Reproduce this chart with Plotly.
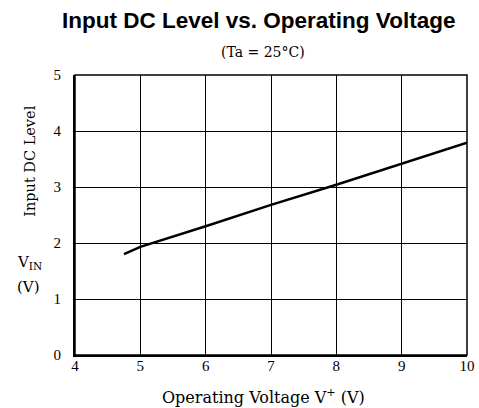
import plotly.graph_objects as go

# Data
v_plus = [4.75, 5, 6, 7, 8, 9, 10]
v_in = [1.80, 1.93, 2.30, 2.68, 3.04, 3.42, 3.79]
x_ticks = [4, 5, 6, 7, 8, 9, 10]
y_ticks = [0, 1, 2, 3, 4, 5]

serif = "Liberation Serif, Times New Roman, serif"
wserif = "DejaVu Serif, serif"
sans = "Liberation Sans, Arial, sans-serif"

fig = go.Figure()
fig.add_trace(go.Scatter(x=v_plus, y=v_in, mode="lines",
                         line=dict(color="black", width=2.5), showlegend=False))

axis_common = dict(showgrid=True, gridcolor="black", gridwidth=1, zeroline=False,
                   showline=True, linecolor="black", linewidth=2, ticks="", ticklen=0,
                   fixedrange=True, automargin=False,
                   tickfont=dict(family=serif, size=15, color="black"))

fig.update_layout(
    width=479, height=408,
    margin=dict(l=75, r=12, t=75, b=53, autoexpand=False),
    paper_bgcolor="white", plot_bgcolor="white",
    xaxis=dict(range=[4, 10], tickvals=x_ticks, ticklabelstandoff=-4, **axis_common),
    yaxis=dict(range=[0, 5], tickvals=y_ticks, ticklabelstandoff=9, **axis_common),
    shapes=[
        dict(type="rect", xref="paper", yref="paper", x0=0, y0=0, x1=1, y1=1,
             line=dict(color="black", width=1.5), layer="above"),
    ],
    annotations=[
        dict(text="<b>Input DC Level vs. Operating Voltage</b>", x=0.5, y=1,
             xref="paper", yref="paper", yanchor="middle", yshift=55, xshift=-13,
             showarrow=False, font=dict(family=sans, size=22.5, color="black")),
        dict(text="(Ta = 25°C)", x=0.48, y=1, xref="paper", yref="paper",
             yanchor="middle", yshift=23, showarrow=False,
             font=dict(family=wserif, size=14, color="black")),
        dict(text="Operating Voltage V<sup>+</sup> (V)", x=0.48, y=0, xref="paper",
             yref="paper", yanchor="middle", yshift=-41, showarrow=False,
             font=dict(family=wserif, size=16, color="black")),
        dict(text="Input DC Level", x=0, y=0.69, xref="paper", yref="paper",
             xanchor="center", yanchor="middle", xshift=-45, textangle=-90,
             showarrow=False, font=dict(family=wserif, size=14.5, color="black")),
        dict(text="V<sub>IN</sub>", x=0, y=0.329, xref="paper", yref="paper",
             xanchor="center", yanchor="middle", xshift=-46, showarrow=False,
             font=dict(family=wserif, size=15, color="black")),
        dict(text="(V)", x=0, y=0.243, xref="paper", yref="paper",
             xanchor="center", yanchor="middle", xshift=-47, showarrow=False,
             font=dict(family=wserif, size=15, color="black")),
    ],
)

# remove the browser's default 8px page margin so the 479x408 figure fills the window
fig.write_html("out.html",
               config={"displayModeBar": False, "staticPlot": True},
               post_script="document.body.style.margin='0';document.body.style.overflow='hidden';")
